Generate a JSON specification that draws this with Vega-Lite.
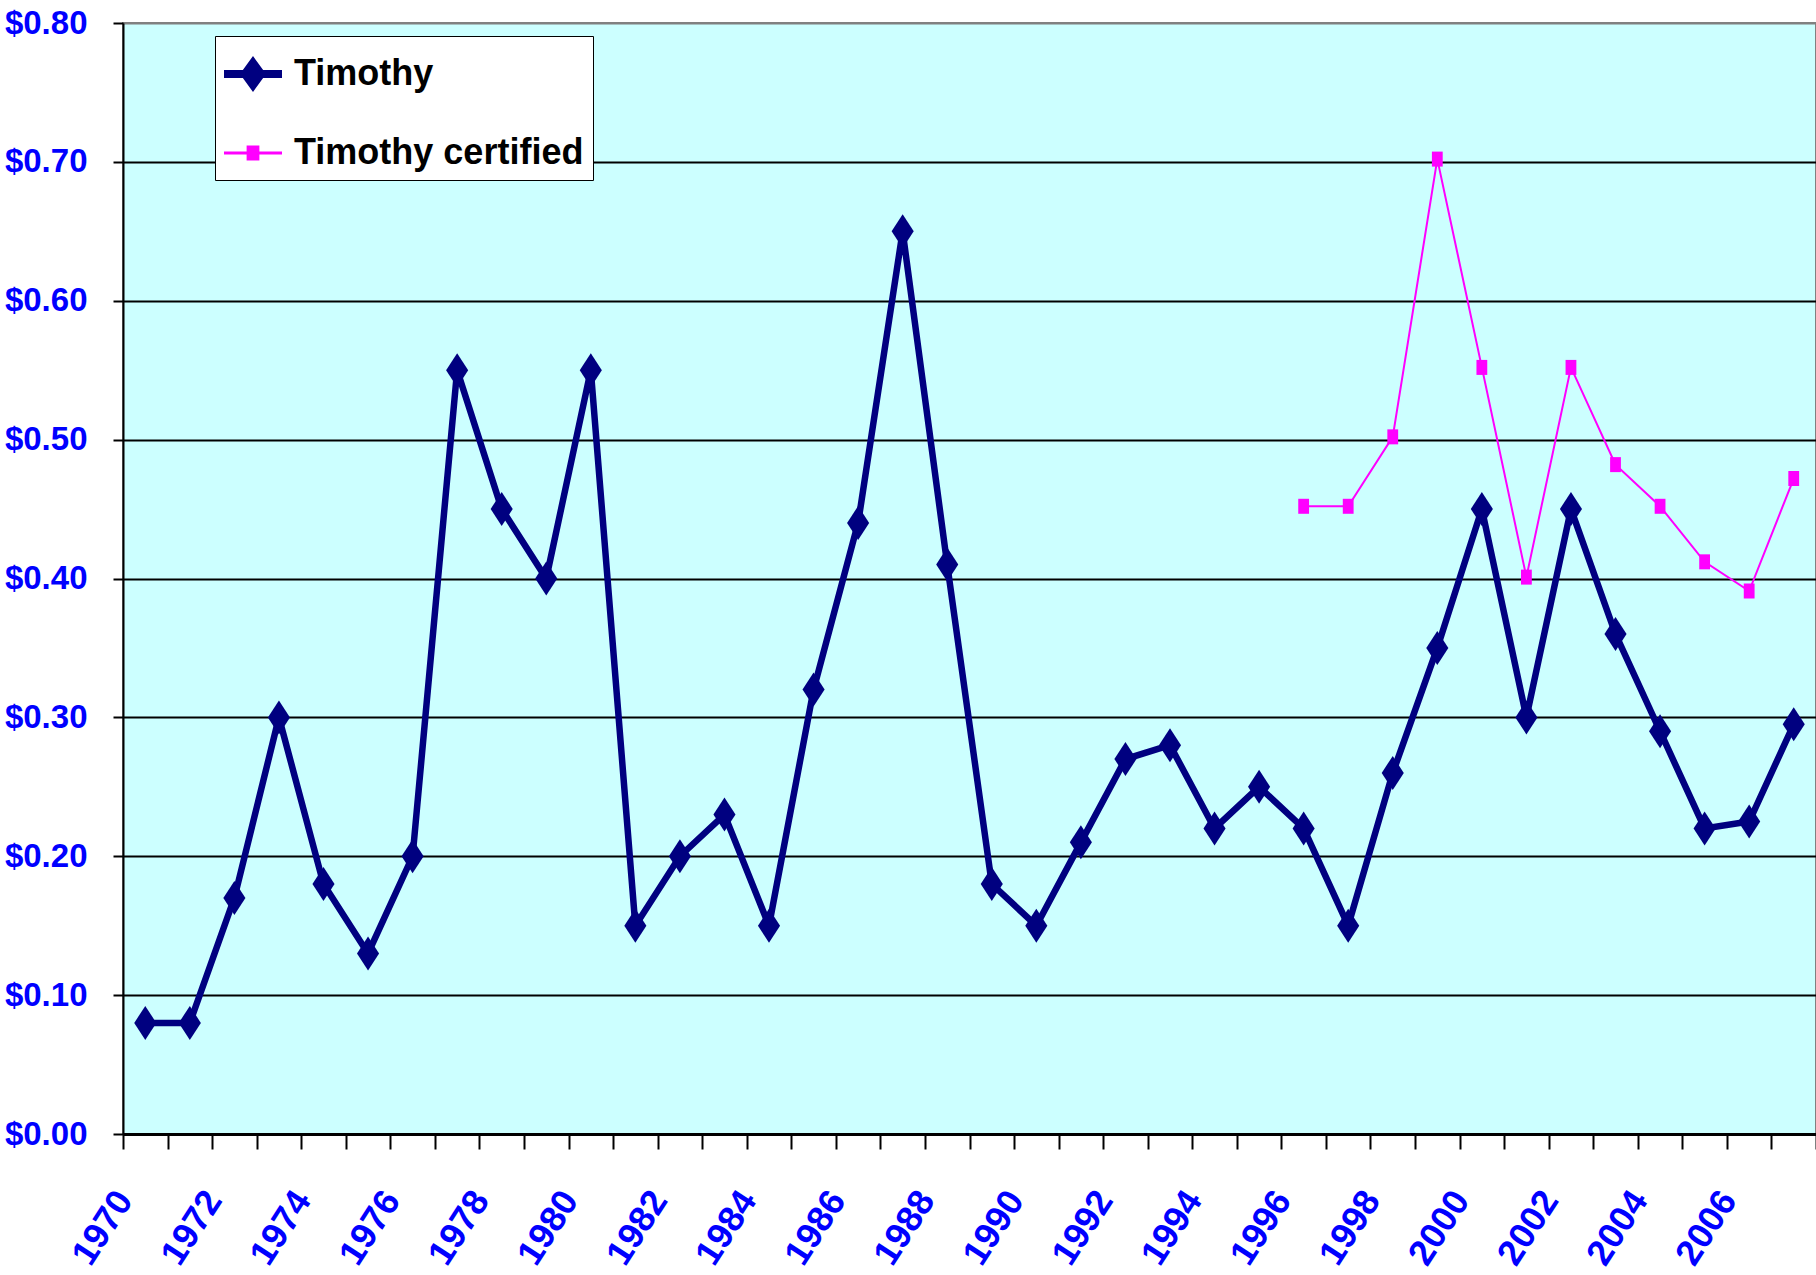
{
  "$schema": "https://vega.github.io/schema/vega-lite/v6.json",
  "autosize": {"type": "none"},
  "padding": {"left": 123, "top": 23, "right": 0, "bottom": 141},
  "width": 1693,
  "height": 1111,
  "background": "white",
  "config": {
    "view": {"fill": "#CCFFFF", "stroke": "#808080", "strokeWidth": 2},
    "legend": {
      "labelFont": "Liberation Sans",
      "labelFontWeight": "bold",
      "labelFontSize": 36,
      "labelColor": "black",
      "labelOffset": 12,
      "labelLimit": 0,
      "symbolSize": 3364,
      "symbolStrokeWidth": 0,
      "symbolOpacity": 1,
      "rowPadding": 32,
      "padding": 9,
      "strokeColor": "black",
      "fillColor": "white",
      "cornerRadius": 0
    }
  },
  "datasets": {
    "prices": [
      {"year": 1970, "series": "Timothy", "price": 0.08},
      {"year": 1971, "series": "Timothy", "price": 0.08},
      {"year": 1972, "series": "Timothy", "price": 0.17},
      {"year": 1973, "series": "Timothy", "price": 0.30},
      {"year": 1974, "series": "Timothy", "price": 0.18},
      {"year": 1975, "series": "Timothy", "price": 0.13},
      {"year": 1976, "series": "Timothy", "price": 0.20},
      {"year": 1977, "series": "Timothy", "price": 0.55},
      {"year": 1978, "series": "Timothy", "price": 0.45},
      {"year": 1979, "series": "Timothy", "price": 0.40},
      {"year": 1980, "series": "Timothy", "price": 0.55},
      {"year": 1981, "series": "Timothy", "price": 0.15},
      {"year": 1982, "series": "Timothy", "price": 0.20},
      {"year": 1983, "series": "Timothy", "price": 0.23},
      {"year": 1984, "series": "Timothy", "price": 0.15},
      {"year": 1985, "series": "Timothy", "price": 0.32},
      {"year": 1986, "series": "Timothy", "price": 0.44},
      {"year": 1987, "series": "Timothy", "price": 0.65},
      {"year": 1988, "series": "Timothy", "price": 0.41},
      {"year": 1989, "series": "Timothy", "price": 0.18},
      {"year": 1990, "series": "Timothy", "price": 0.15},
      {"year": 1991, "series": "Timothy", "price": 0.21},
      {"year": 1992, "series": "Timothy", "price": 0.27},
      {"year": 1993, "series": "Timothy", "price": 0.28},
      {"year": 1994, "series": "Timothy", "price": 0.22},
      {"year": 1995, "series": "Timothy", "price": 0.25},
      {"year": 1996, "series": "Timothy", "price": 0.22},
      {"year": 1997, "series": "Timothy", "price": 0.15},
      {"year": 1998, "series": "Timothy", "price": 0.26},
      {"year": 1999, "series": "Timothy", "price": 0.35},
      {"year": 2000, "series": "Timothy", "price": 0.45},
      {"year": 2001, "series": "Timothy", "price": 0.30},
      {"year": 2002, "series": "Timothy", "price": 0.45},
      {"year": 2003, "series": "Timothy", "price": 0.36},
      {"year": 2004, "series": "Timothy", "price": 0.29},
      {"year": 2005, "series": "Timothy", "price": 0.22},
      {"year": 2006, "series": "Timothy", "price": 0.225},
      {"year": 2007, "series": "Timothy", "price": 0.295},
      {"year": 1996, "series": "Timothy certified", "price": 0.452},
      {"year": 1997, "series": "Timothy certified", "price": 0.452},
      {"year": 1998, "series": "Timothy certified", "price": 0.502},
      {"year": 1999, "series": "Timothy certified", "price": 0.702},
      {"year": 2000, "series": "Timothy certified", "price": 0.552},
      {"year": 2001, "series": "Timothy certified", "price": 0.401},
      {"year": 2002, "series": "Timothy certified", "price": 0.552},
      {"year": 2003, "series": "Timothy certified", "price": 0.482},
      {"year": 2004, "series": "Timothy certified", "price": 0.452},
      {"year": 2005, "series": "Timothy certified", "price": 0.412},
      {"year": 2006, "series": "Timothy certified", "price": 0.391},
      {"year": 2007, "series": "Timothy certified", "price": 0.472}
    ]
  },
  "data": {"name": "prices"},
  "encoding": {
    "x": {
      "field": "year",
      "type": "ordinal",
      "sort": "ascending",
      "scale": {"type": "band", "paddingInner": 0, "paddingOuter": 0},
      "axis": {
        "title": null,
        "tickBand": "extent",
        "grid": false,
        "domainColor": "black",
        "domainWidth": 3,
        "tickColor": "black",
        "tickWidth": 2,
        "tickSize": 15,
        "labelExpr": "datum.value % 2 === 0 ? datum.label : ''",
        "labelOverlap": false,
        "labelAngle": -57,
        "labelAlign": "right",
        "labelBaseline": "middle",
        "labelPadding": 45,
        "labelOffset": -21,
        "labelFont": "Liberation Sans",
        "labelFontWeight": "bold",
        "labelFontSize": 36,
        "labelColor": "#0000FF"
      }
    },
    "y": {
      "field": "price",
      "type": "quantitative",
      "scale": {"domain": [0, 0.8], "nice": false, "zero": true},
      "axis": {
        "title": null,
        "values": [0, 0.1, 0.2, 0.3, 0.4, 0.5, 0.6, 0.7, 0.8],
        "format": "$.2f",
        "grid": true,
        "gridColor": {"condition": {"test": "datum.value >= 0.79", "value": "#808080"}, "value": "black"},
        "gridWidth": 2,
        "gridOpacity": 1,
        "domainColor": "black",
        "domainWidth": 2,
        "tickColor": "black",
        "tickWidth": 2,
        "tickSize": 10,
        "labelPadding": 26,
        "labelFont": "Liberation Sans",
        "labelFontWeight": "bold",
        "labelFontSize": 33,
        "labelColor": "#0000FF",
        "labelBaseline": "middle"
      }
    }
  },
  "layer": [
    {
      "transform": [{"filter": "datum.series === 'Timothy'"}],
      "mark": {"type": "line", "color": "#000080", "strokeWidth": 6.5, "strokeJoin": "miter"}
    },
    {
      "transform": [{"filter": "datum.series === 'Timothy certified'"}],
      "mark": {"type": "line", "color": "#FF00FF", "strokeWidth": 2}
    },
    {
      "transform": [{"filter": "datum.series === 'Timothy'"}],
      "mark": {"type": "point", "filled": true, "opacity": 1, "color": "#000080", "size": 1156, "strokeWidth": 0, "shape": "M0,-1 L0.65,0 L0,1 L-0.65,0 Z"}
    },
    {
      "transform": [{"filter": "datum.series === 'Timothy certified'"}],
      "mark": {"type": "point", "filled": true, "opacity": 1, "color": "#FF00FF", "size": 225, "strokeWidth": 0, "shape": "M-0.72,-1 L0.72,-1 L0.72,1 L-0.72,1 Z"}
    },
    {
      "mark": {"type": "point", "filled": true, "opacity": 0, "size": 1},
      "encoding": {
        "color": {
          "field": "series",
          "type": "nominal",
          "scale": {"domain": ["Timothy", "Timothy certified"], "range": ["#000080", "#FF00FF"]},
          "legend": {"title": null, "orient": "none", "legendX": 92, "legendY": 13, "symbolSize": 3364, "symbolOpacity": 1}
        },
        "shape": {
          "field": "series",
          "type": "nominal",
          "scale": {
            "domain": ["Timothy", "Timothy certified"],
            "range": [
              "M-1,-0.14 L1,-0.14 L1,0.14 L-1,0.14 Z M0,-0.62 L0.45,0 L0,0.62 L-0.45,0 Z",
              "M-1,-0.05 L1,-0.05 L1,0.05 L-1,0.05 Z M-0.22,-0.26 L0.22,-0.26 L0.22,0.26 L-0.22,0.26 Z"
            ]
          },
          "legend": {"title": null, "orient": "none", "legendX": 92, "legendY": 13, "symbolSize": 3364, "symbolOpacity": 1}
        }
      }
    }
  ]
}
